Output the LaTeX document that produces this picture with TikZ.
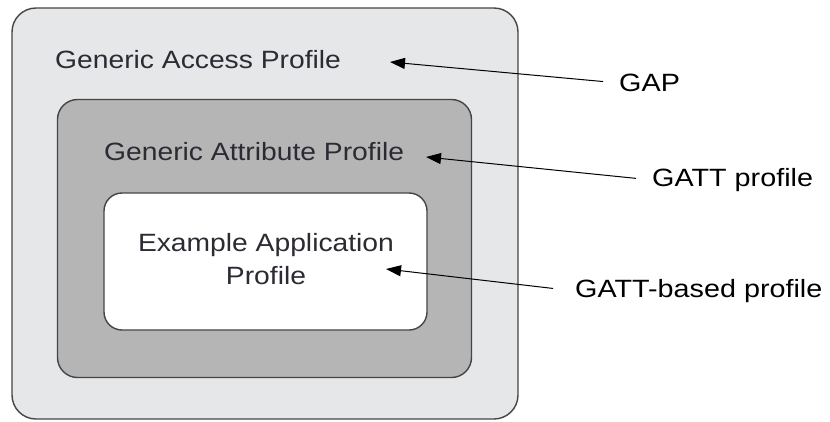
\documentclass[tikz,border=0pt]{standalone}
\usepackage{fontspec}
\setmainfont{Liberation Sans}
\newfontfamily\boxfont[FakeStretch=1.13]{Liberation Sans}
\newfontfamily\tagfont[FakeStretch=1.15]{Liberation Sans}
\usetikzlibrary{positioning,arrows.meta}
\definecolor{outerfill}{HTML}{E6E7E9}
\definecolor{midfill}{HTML}{B5B5B6}
\definecolor{edgegray}{HTML}{454545}
\definecolor{textblue}{HTML}{2B2B33}
\tikzset{
  box/.style={draw=edgegray,line width=1.4pt,rectangle,inner sep=0pt},
  boxtext/.style={inner sep=0pt,text=textblue,font=\boxfont\fontsize{25}{33}\selectfont},
  tag/.style={inner sep=0pt,font=\tagfont\fontsize{25}{30}\selectfont,anchor=west},
  pointer/.style={-{Triangle[length=15pt,width=11pt]},line width=1pt,shorten <=16pt}
}
\begin{document}
\begin{tikzpicture}[x=1pt,y=-1pt]
            \useasboundingbox (0,0) rectangle (830,421);
            \node[box,fill=outerfill,rounded corners=24pt,minimum width=506pt,minimum height=411pt](gap) at (265,213.5){};
            \node[box,fill=midfill,rounded corners=20pt,minimum width=414pt,minimum height=278pt](gatt) at (264.5,238.5){};
            \node[box,fill=white,rounded corners=18pt,minimum width=323pt,minimum height=137pt](app) at (265.5,261.5){};
            \node[boxtext,anchor=west](gaptext) at (55,60){Generic Access Profile};
            \node[boxtext,anchor=west](gatttext) at (104,152){Generic Attribute Profile};
            \node[boxtext,align=center](apptext) at (266,259){Example Application\\Profile};
            \node[tag](gaplabel) at (619,83){GAP};
            \node[tag](gattlabel) at (652,180){GATT profile};
            \node[tag](applabel) at (575,291){GATT-based profile};
            \coordinate (gaptip) at (390,62);
            \coordinate (gatttip) at (426,157);
            \coordinate (apptip) at (386,269);
            \draw[pointer](gaplabel.west) -- (gaptip);
            \draw[pointer](gattlabel.west) -- (gatttip);
            \draw[pointer,shorten <=22pt](applabel.west) -- (apptip);
        \end{tikzpicture}
\end{document}
